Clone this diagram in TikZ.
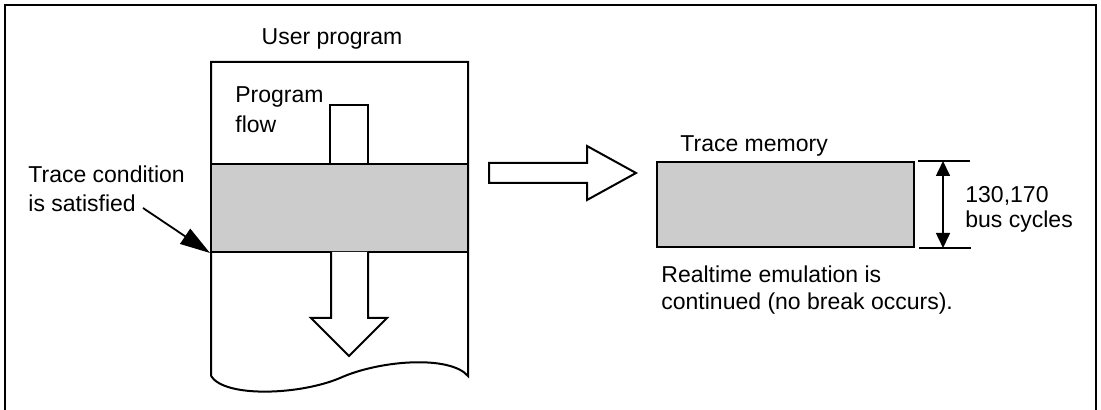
\documentclass[tikz,border=0pt]{standalone}
\usepackage{fontspec}
\setmainfont{Liberation Sans}
\usetikzlibrary{arrows.meta,positioning,calc}
\definecolor{bandgray}{RGB}{204,204,204}
\tikzset{
  lbl/.style={font=\fontsize{11.5}{14}\selectfont,inner sep=0pt,align=left,anchor=base west},
  frame/.style={line width=1pt,draw=black},
  band/.style={rectangle,draw=black,line width=1pt,fill=bandgray,inner sep=0pt},
  hollow/.style={draw=black,line width=1pt,fill=white,line join=miter},
  pointer/.style={-{Triangle[length=15pt,width=9pt]},line width=0.9pt},
  dim/.style={{Triangle[length=7.5pt,width=7pt]}-{Triangle[length=7.5pt,width=7pt]},line width=0.8pt}
}
\begin{document}
\begin{tikzpicture}[x=0.5pt,y=-0.5pt]
  \useasboundingbox (0,0) rectangle (1101,410);
  \draw[frame] (5,410) -- (5,5) -- (1096,5) -- (1096,410);
  % user program sheet
  \draw[frame] (211,376) -- (211,62) -- (468,62) -- (468,376)
    .. controls (450,355) and (380,360) .. (340,378)
    .. controls (300,395) and (225,398) .. (211,376);
  \node[lbl,anchor=base] (uptitle) at (332,45) {User program};
  \draw[frame] (330,164) -- (330,105) -- (368,105) -- (368,164);
  \node[band,minimum width=128.5pt,minimum height=44pt] (band) at (339.5,208) {};
  \draw[hollow] (331,252) -- (331,318) -- (311,318) -- (349,356) -- (387,318)
    -- (368,318) -- (368,252);
  \node[lbl,font=\fontsize{11.5}{15}\selectfont] (flow) at (235,133) {Program\\flow};
  \node[lbl,font=\fontsize{11.5}{14.5}\selectfont] (cond) at (28,212) {Trace condition\\is satisfied};
  \coordinate (condtip) at (143,208);
  \draw[pointer] (condtip) -- (band.south west);
  % transfer
  \draw[hollow] (489,163) -- (587,163) -- (587,146) -- (636,173) -- (587,200)
    -- (587,183) -- (489,183) -- cycle;
  % trace memory
  \node[band,minimum width=128.5pt,minimum height=42.5pt] (mem) at (785.5,204.5) {};
  \node[lbl] (memtitle) at (680,152) {Trace memory};
  \draw[line width=0.8pt] ($(mem.north east)+(3,0)$) -- +(52,0);
  \draw[line width=0.8pt] ($(mem.south east)+(4,0)$) -- +(52,0);
  \coordinate (dimtop) at ($(mem.north east)+(28,0)$);
  \coordinate (dimbot) at ($(mem.south east)+(28,0)$);
  \draw[dim] (dimtop) -- (dimbot);
  \node[lbl,font=\fontsize{11.5}{12.5}\selectfont] (cycles) at (965,228) {130,170\\bus cycles};
  \node[lbl,font=\fontsize{11.5}{13.5}\selectfont] (note) at (661,310) {Realtime emulation is\\continued (no break occurs).};
\end{tikzpicture}
\end{document}
